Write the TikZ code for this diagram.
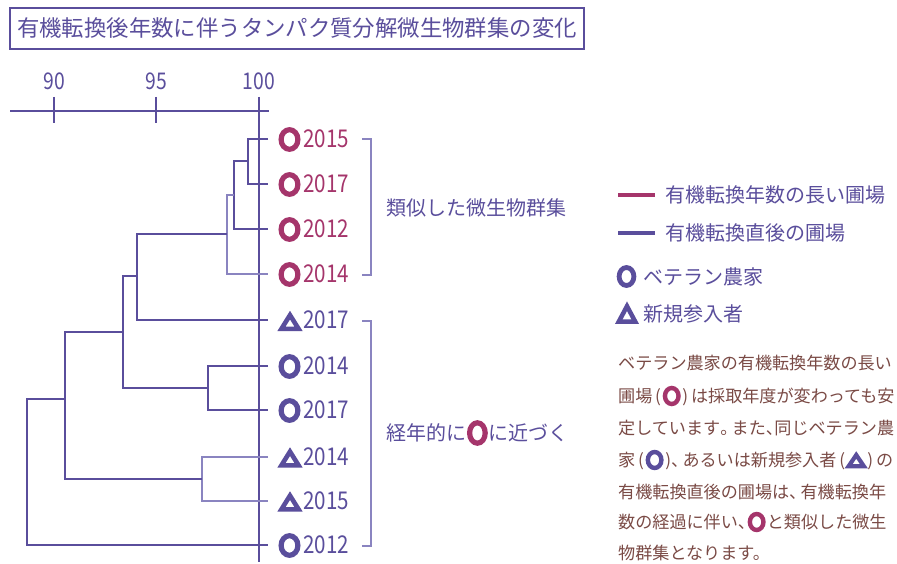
\documentclass[tikz,border=0pt]{standalone}
\usepackage{fontspec}
\setmainfont{Noto Sans CJK JP}
\newfontfamily\narrowfont[FakeStretch=0.84]{Noto Sans CJK JP}
\usetikzlibrary{calc}
\definecolor{pur}{HTML}{5A4E9C}
\definecolor{purl}{HTML}{8A84C0}
\definecolor{mag}{HTML}{A5356B}
\definecolor{brn}{HTML}{7A4A45}
\newcommand\hpunct[1]{\makebox[0.5em][l]{#1}}
\tikzset{
  dline/.style={pur, line width=2pt},
  dlight/.style={purl, line width=1.4pt},
  axisline/.style={pur, line width=1.6pt},
  brack/.style={purl, line width=1.6pt},
  legline/.style={line width=4.5pt},
  leafyear/.style={font=\narrowfont\fontsize{24.5}{26}\selectfont, anchor=west, inner sep=0pt},
  axlabel/.style={pur, font=\narrowfont\fontsize{23}{25}\selectfont, inner sep=0pt},
  biglabel/.style={pur, font=\fontsize{20}{22}\selectfont, anchor=west, inner sep=0pt, text height=17.6pt, text depth=2.4pt},
  para/.style={brn, font=\fontsize{17.1}{19}\selectfont, anchor=west, inner sep=0pt, text height=15pt, text depth=2.1pt},
  titlebox/.style={draw=pur, line width=1.5pt, text=pur, font=\fontsize{22.4}{26}\selectfont, minimum width=574pt, minimum height=41pt, inner sep=0pt},
  leafring/.pic={\draw[line width=5.2pt] (0,0) ellipse [x radius=8.4pt, y radius=9.8pt];},
  leaftri/.pic={\draw[line width=4.6pt] (-8.6pt,-7.4pt) -- (8.6pt,-7.4pt) -- (0pt,6.4pt) -- cycle;},
  legring/.pic={\draw[line width=4.8pt] (0,0) ellipse [x radius=7.4pt, y radius=9pt];},
  legtri/.pic={\draw[line width=4.5pt] (-8.2pt,-8.6pt) -- (8.2pt,-8.6pt) -- (0pt,6.8pt) -- cycle;},
  labring/.pic={\draw[line width=5.2pt] (0,0) ellipse [x radius=7.8pt, y radius=10.2pt];},
  parring/.pic={\draw[line width=4.4pt] (0,0) ellipse [x radius=6.8pt, y radius=8pt];},
  partri/.pic={\draw[line width=4.2pt] (-7.6pt,-6.2pt) -- (7.6pt,-6.2pt) -- (0pt,5pt) -- cycle;},
}
\begin{document}
\begin{tikzpicture}[x=1pt, y=-1pt]
\useasboundingbox (0,0) rectangle (897,564);
\fill[white] (0,0) rectangle (897,564);

% title
\node[titlebox] (title) at (297,28.5) {有機転換後年数に伴うタンパク質分解微生物群集の変化};

% axis
\coordinate (axL) at (10,111);
\coordinate (axR) at (269,111);
\coordinate (t90a) at (54,97);  \coordinate (t90b) at (54,123);
\coordinate (t95a) at (156,97); \coordinate (t95b) at (156,123);
\coordinate (t100a) at (259,97); \coordinate (t100b) at (259,562);
\draw[axisline] (axL) -- (axR);
\draw[axisline] (t90a) -- (t90b);
\draw[axisline] (t95a) -- (t95b);
\draw[axisline] (t100a) -- (t100b);
\node[axlabel] (a90) at (54,81) {90};
\node[axlabel] (a95) at (156,81) {95};
\node[axlabel] (a100) at (259,81) {100};

% leaf ends
\coordinate (l1) at (268,139);
\coordinate (l2) at (268,184);
\coordinate (l3) at (268,229);
\coordinate (l4) at (268,274);
\coordinate (l5) at (268,320);
\coordinate (l6) at (268,366);
\coordinate (l7) at (268,410);
\coordinate (l8) at (268,457);
\coordinate (l9) at (268,501);
\coordinate (l10) at (268,545);
% internal nodes
\coordinate (n1) at (248,161.5);
\coordinate (n2) at (234,195);
\coordinate (n3) at (227,234.5);
\coordinate (n4) at (137,276);
\coordinate (n5) at (208,388);
\coordinate (n6) at (123,332);
\coordinate (n7) at (202,479);
\coordinate (n8) at (65,399);
\coordinate (root) at (27,470);

\draw[dline] (l1) -| (n1) |- (l2);
\draw[dline] (n1) -| (n2) |- (l3);
\draw[dlight] (n2) -| (n3) |- (l4);
\draw[dline] (n3) -| (n4) |- (l5);
\draw[dline] (l6) -| (n5) |- (l7);
\draw[dline] (n4) -| (n6) |- (n5);
\draw[dlight] (l8) -| (n7) |- (l9);
\draw[dline] (n6) -| (n8) |- (n7);
\draw[dline] (n8) -| (root) |- (l10);

% leaf symbols and years
\pic[mag] at (289.5,139.5) {leafring};
\pic[mag] at (289.5,184.5) {leafring};
\pic[mag] at (289.5,229.5) {leafring};
\pic[mag] at (289.5,274.5) {leafring};
\pic[pur] at (290,321.5) {leaftri};
\pic[pur] at (289.5,366.5) {leafring};
\pic[pur] at (289.5,410.5) {leafring};
\pic[pur] at (290,458) {leaftri};
\pic[pur] at (290,502) {leaftri};
\pic[pur] at (289.5,545.5) {leafring};
\node[leafyear, mag] (y1) at (303,139) {2015};
\node[leafyear, mag] (y2) at (303,184) {2017};
\node[leafyear, mag] (y3) at (303,229) {2012};
\node[leafyear, mag] (y4) at (303,274) {2014};
\node[leafyear, pur] (y5) at (303,320) {2017};
\node[leafyear, pur] (y6) at (303,366) {2014};
\node[leafyear, pur] (y7) at (303,410) {2017};
\node[leafyear, pur] (y8) at (303,457) {2014};
\node[leafyear, pur] (y9) at (303,501) {2015};
\node[leafyear, pur] (y10) at (303,545) {2012};

% brackets
\coordinate (b1a) at (362,139); \coordinate (b1b) at (371,139);
\coordinate (b1c) at (371,275); \coordinate (b1d) at (362,275);
\coordinate (b2a) at (362,321); \coordinate (b2b) at (371,321);
\coordinate (b2c) at (371,546); \coordinate (b2d) at (362,546);
\draw[brack] (b1a) -- (b1b) -- (b1c) -- (b1d);
\draw[brack] (b2a) -- (b2b) -- (b2c) -- (b2d);

\node[biglabel] (g1) at (386,208) {類似した微生物群集};
\node[biglabel] (g2a) at (386,433) {経年的に};
\pic[mag] at ($(g2a.east)+(11,0)$) {labring};
\node[biglabel] (g2b) at ($(g2a.east)+(22,0)$) {に近づく};

% legend
\coordinate (lm1) at (618,195); \coordinate (lm2) at (655,195);
\coordinate (lp1) at (618,233); \coordinate (lp2) at (655,233);
\draw[legline, mag] (lm1) -- (lm2);
\draw[legline, pur] (lp1) -- (lp2);
\node[biglabel] (lg1) at (665,195) {有機転換年数の長い圃場};
\node[biglabel] (lg2) at (665,233) {有機転換直後の圃場};
\pic[pur] at (626.5,276.5) {legring};
\node[biglabel] (lg3) at (643,277) {ベテラン農家};
\pic[pur] at (627,313) {legtri};
\node[biglabel] (lg4) at (643,314) {新規参入者};

% paragraph
\node[para] (p1) at (618,363) {ベテラン農家の有機転換年数の長い};
\node[para] (p2a) at (618,396) {圃場\,(};
\pic[mag] at ($(p2a.east)+(10.5,0)$) {parring};
\node[para] (p2b) at ($(p2a.east)+(21,0)$) {)\,は採取年度が変わっても安};
\node[para] (p3) at (618,428) {定しています\hpunct{。}\,また\hpunct{、}同じベテラン農};
\node[para] (p4a) at (618,460) {家\,(};
\pic[pur] at ($(p4a.east)+(10.5,0)$) {parring};
\node[para] (p4b) at ($(p4a.east)+(21,0)$) {)\hpunct{、}\,あるいは新規参入者\,(};
\pic[pur] at ($(p4b.east)+(11,0)$) {partri};
\node[para] (p4c) at ($(p4b.east)+(22,0)$) {)\,の};
\node[para] (p5) at (618,492) {有機転換直後の圃場は\hpunct{、}\,有機転換年};
\node[para] (p6a) at (618,522) {数の経過に伴い\hpunct{、}};
\pic[mag] at ($(p6a.east)+(10,0)$) {parring};
\node[para] (p6b) at ($(p6a.east)+(20,0)$) {と類似した微生};
\node[para] (p7) at (618,553) {物群集となります。};
\end{tikzpicture}
\end{document}
